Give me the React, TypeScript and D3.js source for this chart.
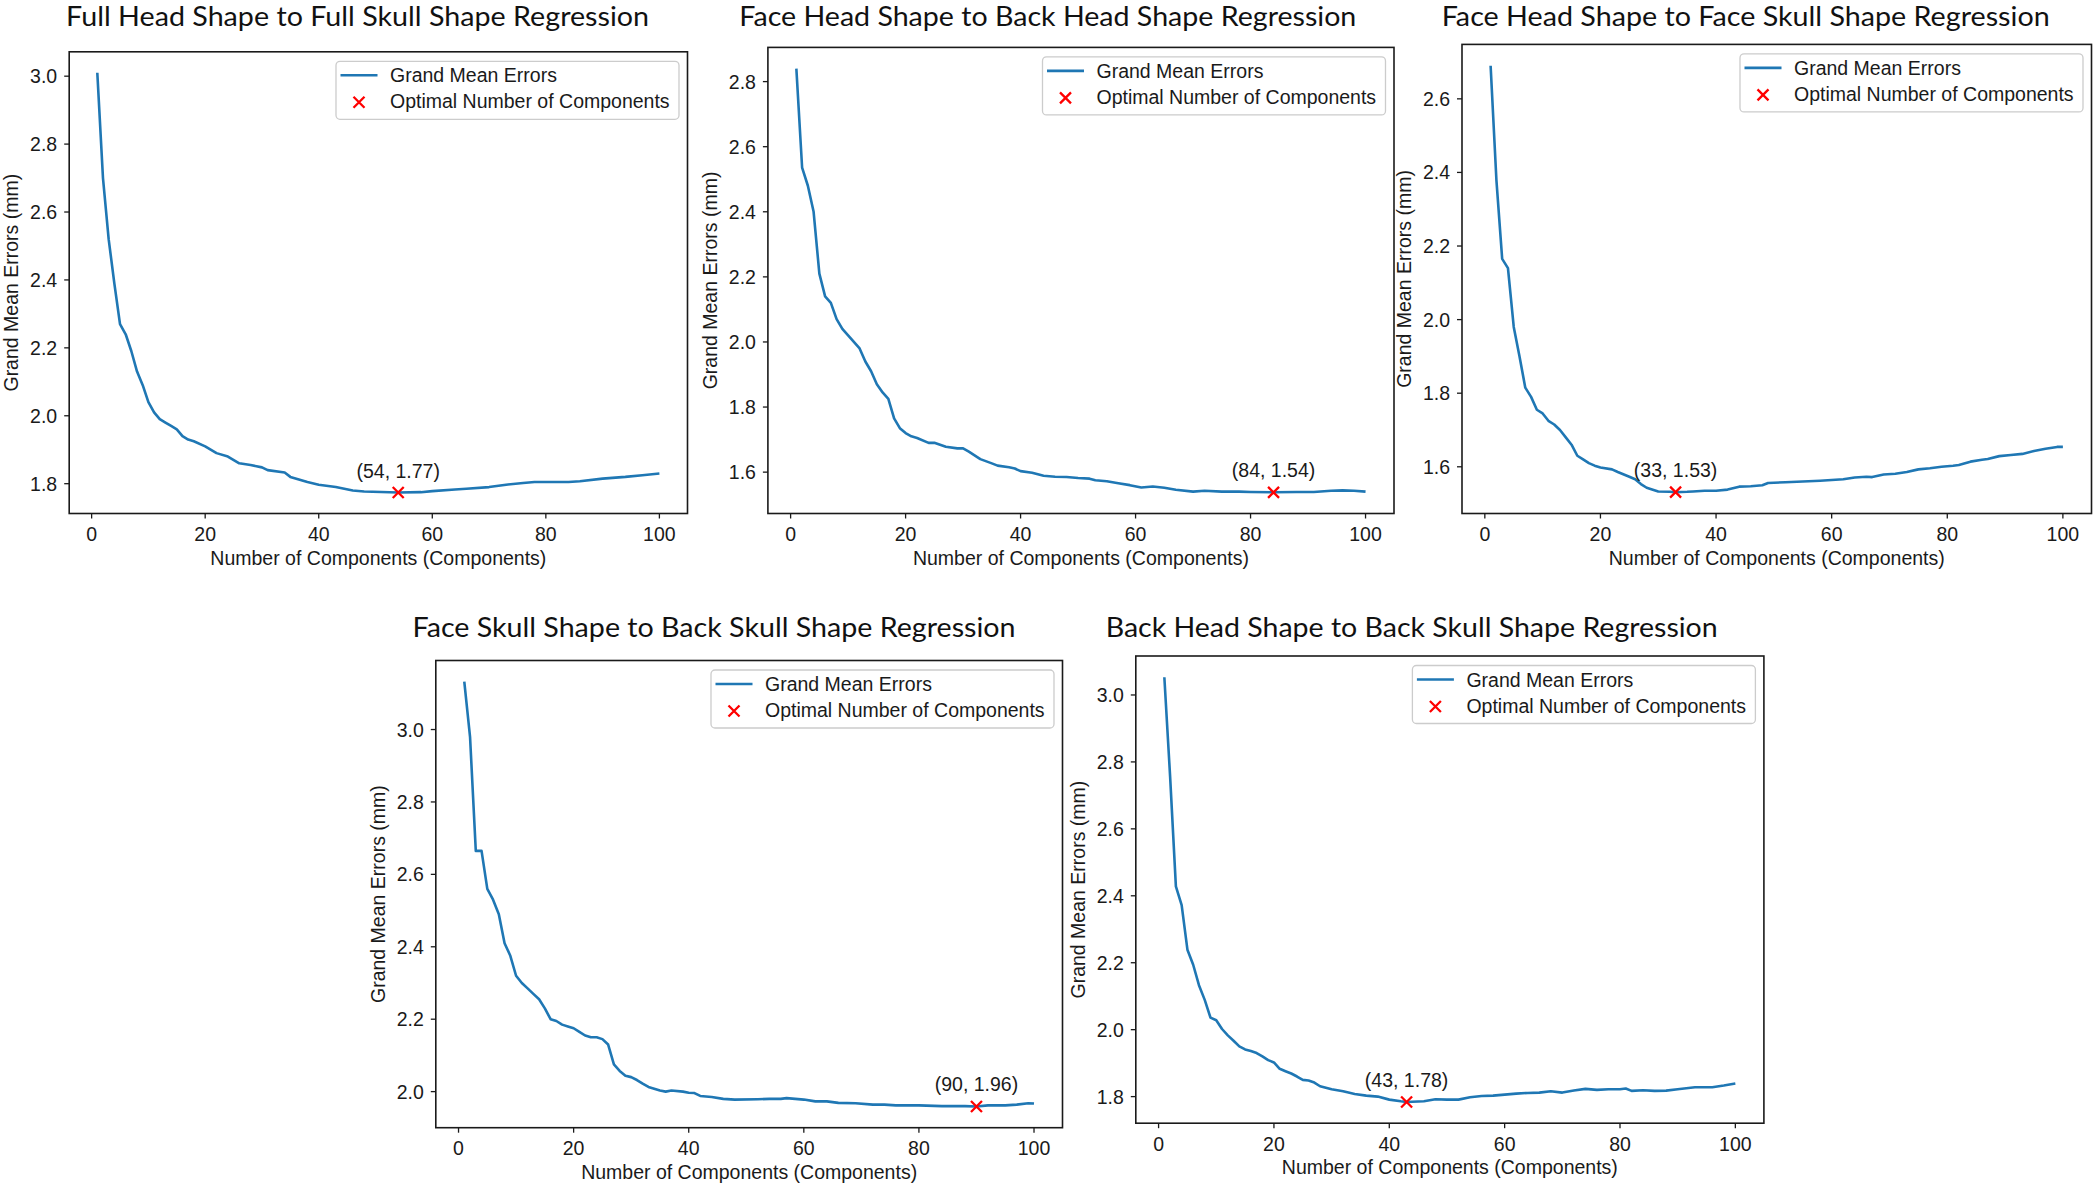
// Five PLS-style regression error curves, one panel each, drawn with d3 scales.

import * as d3 from "d3";

const WIDTH = 2096;
const HEIGHT = 1186;

// Full head shape -> full skull shape
const fullHeadX = [1, 2, 3, 4, 5, 6, 7, 8, 9, 10, 11, 12, 13, 14, 15, 16, 17, 18, 20, 22, 24, 26, 28, 30, 31, 34, 35, 38, 40, 43, 46, 48, 54, 58, 60, 64, 66, 70, 73, 76, 78, 80, 84, 86, 90, 94, 97, 100];
const fullHeadY = [3.01, 2.7, 2.52, 2.39, 2.27, 2.24, 2.19, 2.13, 2.09, 2.04, 2.01, 1.99, 1.98, 1.97, 1.96, 1.94, 1.93, 1.925, 1.91, 1.89, 1.88, 1.86, 1.855, 1.848, 1.84, 1.833, 1.82, 1.805, 1.797, 1.79, 1.78, 1.777, 1.774, 1.775, 1.778, 1.783, 1.785, 1.79, 1.797, 1.802, 1.805, 1.805, 1.805, 1.807, 1.815, 1.82, 1.825, 1.83];

// Face head shape -> back head shape
const faceBackHeadX = [1, 2, 3, 4, 5, 6, 7, 8, 9, 10, 11, 12, 13, 14, 15, 16, 17, 18, 19, 20, 21, 22, 24, 25, 27, 29, 30, 31, 33, 35, 36, 38, 39, 40, 42, 44, 46, 48, 50, 52, 53, 55, 57, 59, 61, 63, 65, 67, 70, 72, 75, 78, 80, 84, 88, 91, 94, 96, 98, 100];
const faceBackHeadY = [2.84, 2.536, 2.48, 2.4, 2.21, 2.14, 2.12, 2.07, 2.04, 2.02, 2.0, 1.98, 1.94, 1.91, 1.87, 1.845, 1.825, 1.765, 1.735, 1.72, 1.71, 1.705, 1.69, 1.69, 1.678, 1.673, 1.673, 1.663, 1.64, 1.627, 1.62, 1.615, 1.611, 1.603, 1.598, 1.589, 1.586, 1.585, 1.582, 1.58, 1.575, 1.572, 1.566, 1.56, 1.553, 1.556, 1.552, 1.546, 1.54, 1.543, 1.54, 1.54, 1.539, 1.538, 1.539, 1.539, 1.543, 1.544, 1.543, 1.54];

// Face head shape -> face skull shape
const faceSkullX = [1, 2, 3, 4, 5, 6, 7, 8, 9, 10, 11, 12, 13, 14, 15, 16, 17, 18, 19, 20, 22, 23, 25, 26, 27, 28, 30, 32, 33, 35, 36, 38, 40, 42, 44, 46, 48, 49, 52, 55, 58, 60, 62, 64, 66, 67, 69, 71, 73, 75, 77, 79, 81, 82, 84, 86, 87, 89, 91, 93, 95, 97, 99, 100];
const faceSkullY = [2.69, 2.38, 2.165, 2.14, 1.98, 1.9, 1.815, 1.79, 1.755, 1.745, 1.725, 1.715, 1.7, 1.68, 1.66, 1.63, 1.62, 1.61, 1.603, 1.598, 1.593, 1.586, 1.573, 1.566, 1.553, 1.543, 1.533, 1.532, 1.531, 1.532, 1.533, 1.535, 1.535, 1.538, 1.546, 1.547, 1.55, 1.556, 1.558, 1.56, 1.562, 1.564, 1.566, 1.571, 1.573, 1.572, 1.579, 1.581, 1.586, 1.593, 1.596, 1.6, 1.603, 1.605, 1.614, 1.619, 1.621, 1.629, 1.632, 1.635, 1.643, 1.649, 1.654, 1.654];

// Face skull shape -> back skull shape
const faceBackSkullX = [1, 2, 3, 4, 5, 6, 7, 8, 9, 10, 11, 12, 13, 14, 15, 16, 17, 18, 19, 20, 21, 22, 23, 24, 25, 26, 27, 28, 29, 30, 31, 32, 33, 35, 36, 37, 39, 40, 41, 42, 44, 46, 48, 52, 54, 56, 57, 60, 62, 64, 66, 69, 72, 74, 76, 80, 84, 88, 90, 92, 95, 97, 99, 100];
const faceBackSkullY = [3.132, 2.98, 2.665, 2.665, 2.56, 2.53, 2.49, 2.41, 2.375, 2.32, 2.3, 2.285, 2.27, 2.255, 2.23, 2.2, 2.195, 2.185, 2.18, 2.175, 2.165, 2.155, 2.15, 2.15, 2.145, 2.13, 2.075, 2.057, 2.044, 2.04, 2.032, 2.022, 2.013, 2.003, 2.0, 2.003, 2.0, 1.997, 1.996, 1.988, 1.985, 1.98, 1.978, 1.979, 1.98, 1.98, 1.982, 1.978, 1.973, 1.973, 1.969, 1.968, 1.964, 1.964, 1.962, 1.962, 1.96, 1.96, 1.959, 1.962, 1.962, 1.964, 1.968, 1.967];

// Back head shape -> back skull shape
const backSkullX = [1, 2, 3, 4, 5, 6, 7, 8, 9, 10, 11, 12, 13, 14, 15, 16, 17, 18, 19, 20, 21, 22, 23, 24, 25, 26, 27, 28, 30, 32, 34, 36, 38, 40, 42, 43, 46, 48, 50, 52, 54, 56, 58, 60, 62, 64, 66, 68, 70, 72, 74, 76, 78, 80, 81, 82, 84, 86, 88, 90, 93, 96, 98, 100];
const backSkullY = [3.053, 2.756, 2.428, 2.372, 2.239, 2.194, 2.133, 2.089, 2.036, 2.028, 2.002, 1.983, 1.967, 1.95, 1.941, 1.936, 1.93, 1.92, 1.909, 1.902, 1.883, 1.876, 1.869, 1.86, 1.85, 1.848, 1.842, 1.831, 1.822, 1.816, 1.808, 1.803, 1.8, 1.791, 1.786, 1.784, 1.786, 1.792, 1.791, 1.791, 1.798, 1.802, 1.803, 1.806, 1.809, 1.811, 1.812, 1.816, 1.812, 1.818, 1.823, 1.82, 1.822, 1.822, 1.824, 1.817, 1.819, 1.817, 1.818, 1.822, 1.828, 1.828, 1.833, 1.839];

const titles = [
  "Full Head Shape to Full Skull Shape Regression",
  "Face Head Shape to Back Head Shape Regression",
  "Face Head Shape to Face Skull Shape Regression",
  "Face Skull Shape to Back Skull Shape Regression",
  "Back Head Shape to Back Skull Shape Regression",
];
const seriesX = [fullHeadX, faceBackHeadX, faceSkullX, faceBackSkullX, backSkullX];
const seriesY = [fullHeadY, faceBackHeadY, faceSkullY, faceBackSkullY, backSkullY];
const optimalX = [54, 84, 33, 90, 43];
const optimalY = [1.774, 1.538, 1.531, 1.959, 1.784];
const legendLabels = ["Grand Mean Errors", "Optimal Number of Components"];
const xLabel = "Number of Components (Components)";
const yLabel = "Grand Mean Errors (mm)";

// where each panel's axes box sits on the page
const layouts = [
  { left: 69.2, right: 687.5, top: 51.8, bottom: 513.5, titleX: 357.6, titleY: 26, titleLen: 583 },
  { left: 767.9, right: 1394, top: 47.4, bottom: 513.5, titleX: 1047.8, titleY: 26, titleLen: 617 },
  { left: 1462, right: 2091.5, top: 44.4, bottom: 513.5, titleX: 1745.7, titleY: 26, titleLen: 608 },
  { left: 435.8, right: 1062.5, top: 660.5, bottom: 1127.7, titleX: 714, titleY: 637, titleLen: 603 },
  { left: 1135.8, right: 1763.9, top: 656, bottom: 1123.2, titleX: 1411.7, titleY: 637, titleLen: 612 },
];

const BLUE = "#1f77b4";
const RED = "#ff0000";
const INK = "#1a1a1a";
const FONT = "'Liberation Sans', Arial, sans-serif";
const FS = 19.5;

function Cross({ cx, cy, r = 5.5 }) {
  return (
    <path
      d={`M${cx - r},${cy - r}L${cx + r},${cy + r}M${cx - r},${cy + r}L${cx + r},${cy - r}`}
      stroke={RED}
      strokeWidth={2.3}
      fill="none"
    />
  );
}

function Panel({ idx }) {
  const xs = seriesX[idx];
  const ys = seriesY[idx];
  const ox = optimalX[idx];
  const oy = optimalY[idx];
  const { left, right, top, bottom, titleX, titleY, titleLen } = layouts[idx];

  // matplotlib-style autoscale: 5% margins on the data extent
  const [x0, x1] = d3.extent([...xs, ox]);
  const [y0, y1] = d3.extent([...ys, oy]);
  const px = (x1 - x0) * 0.05;
  const py = (y1 - y0) * 0.05;
  const x = d3.scaleLinear([x0 - px, x1 + px], [left, right]);
  const y = d3.scaleLinear([y0 - py, y1 + py], [bottom, top]);

  const line = d3.line((d, i) => x(xs[i]), (d) => y(d));
  const xTicks = x.ticks(6).filter((t) => t >= 0);
  const yTicks = y.ticks(7);
  const fmt = d3.format(".1f");

  const lgW = 343;
  const lgH = 58;
  const lgL = right - 8.5 - lgW;
  const lgT = top + 9.5;

  return (
    <g>
      <text
        x={titleX}
        y={titleY}
        textAnchor="middle"
        fontFamily="Lato, 'Open Sans', sans-serif"
        fontSize={27}
        fill="#111"
        textLength={titleLen}
        lengthAdjust="spacingAndGlyphs"
      >
        {titles[idx]}
      </text>

      <path d={line(ys)} fill="none" stroke={BLUE} strokeWidth={2.6} strokeLinejoin="round" />
      <Cross cx={x(ox)} cy={y(oy)} />
      <text
        x={x(ox)}
        y={y(oy) - 15}
        textAnchor="middle"
        fontFamily={FONT}
        fontSize={FS}
        fill={INK}
      >
        {`(${ox}, ${oy.toFixed(2)})`}
      </text>

      {/* frame */}
      <rect x={left} y={top} width={right - left} height={bottom - top} fill="none" stroke={INK} strokeWidth={1.6} />

      {/* x axis */}
      {xTicks.map((t) => (
        <g key={`x${t}`}>
          <line x1={x(t)} x2={x(t)} y1={bottom} y2={bottom + 5} stroke={INK} strokeWidth={1.3} />
          <text x={x(t)} y={bottom + 27.5} textAnchor="middle" fontFamily={FONT} fontSize={FS} fill={INK}>
            {t}
          </text>
        </g>
      ))}
      <text x={(left + right) / 2} y={bottom + 51} textAnchor="middle" fontFamily={FONT} fontSize={FS} fill={INK}>
        {xLabel}
      </text>

      {/* y axis */}
      {yTicks.map((t) => (
        <g key={`y${t}`}>
          <line x1={left - 5} x2={left} y1={y(t)} y2={y(t)} stroke={INK} strokeWidth={1.3} />
          <text x={left - 12} y={y(t) + 7} textAnchor="end" fontFamily={FONT} fontSize={FS} fill={INK}>
            {fmt(t)}
          </text>
        </g>
      ))}
      <text
        transform={`translate(${left - 51},${(top + bottom) / 2}) rotate(-90)`}
        textAnchor="middle"
        fontFamily={FONT}
        fontSize={FS}
        fill={INK}
      >
        {yLabel}
      </text>

      {/* legend */}
      <rect x={lgL} y={lgT} width={lgW} height={lgH} rx={4} fill="white" fillOpacity={0.8} stroke="#cccccc" strokeWidth={1.3} />
      <line x1={lgL + 4.5} x2={lgL + 41.5} y1={lgT + 14} y2={lgT + 14} stroke={BLUE} strokeWidth={2.6} />
      <text x={lgL + 54} y={lgT + 21} fontFamily={FONT} fontSize={FS} fill={INK}>
        {legendLabels[0]}
      </text>
      <Cross cx={lgL + 23} cy={lgT + 41} />
      <text x={lgL + 54} y={lgT + 47} fontFamily={FONT} fontSize={FS} fill={INK}>
        {legendLabels[1]}
      </text>
    </g>
  );
}

export default function App() {
  return (
    <svg
      width={WIDTH}
      height={HEIGHT}
      style={{ position: "absolute", left: 0, top: 0, display: "block", background: "white" }}
    >
      <rect width={WIDTH} height={HEIGHT} fill="white" />
      {titles.map((t, i) => (
        <Panel key={t} idx={i} />
      ))}
    </svg>
  );
}
